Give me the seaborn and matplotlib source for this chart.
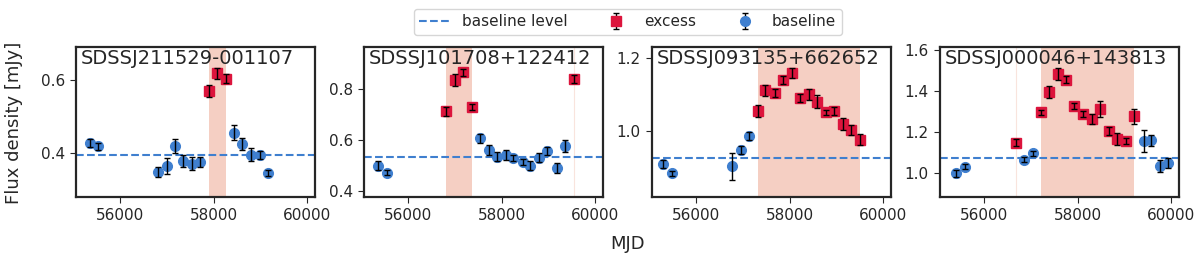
import numpy as np
import matplotlib
matplotlib.use("Agg")
import matplotlib.pyplot as plt
from matplotlib.ticker import MultipleLocator
import seaborn as sns

# ------------------------------------------------------------
# data
# ------------------------------------------------------------
names = ["SDSSJ211529-001107", "SDSSJ101708+122412",
         "SDSSJ093135+662652", "SDSSJ000046+143813"]

mjd_1 = [55344, 55522, 56798, 56988, 57164, 57342, 57532, 57708,
         57898, 58061, 58258, 58421, 58611, 58787, 58984, 59153]
flux_1 = [0.428, 0.419, 0.348, 0.365, 0.420, 0.378, 0.371, 0.375,
          0.570, 0.618, 0.604, 0.456, 0.426, 0.396, 0.394, 0.346]
err_1 = [0.011, 0.009, 0.014, 0.023, 0.020, 0.016, 0.018, 0.014,
         0.016, 0.014, 0.012, 0.020, 0.016, 0.018, 0.011, 0.009]
exc_1 = [0, 0, 0, 0, 0, 0, 0, 0, 1, 1, 1, 0, 0, 0, 0, 0]
base_1 = 0.394

mjd_2 = [55347, 55552, 56807, 56989, 57165, 57362, 57522, 57726, 57888,
         58084, 58238, 58442, 58596, 58800, 58968, 59172, 59341, 59543]
flux_2 = [0.501, 0.474, 0.713, 0.836, 0.864, 0.730, 0.607, 0.562, 0.536,
          0.542, 0.530, 0.515, 0.501, 0.532, 0.558, 0.493, 0.576, 0.838]
err_2 = [0.019, 0.010, 0.017, 0.023, 0.013, 0.013, 0.019, 0.019, 0.019,
         0.019, 0.013, 0.013, 0.016, 0.017, 0.017, 0.019, 0.023, 0.016]
exc_2 = [0, 0, 1, 1, 1, 1, 0, 0, 0, 0, 0, 0, 0, 0, 0, 0, 0, 1]
base_2 = 0.533

mjd_3 = [55283, 55483, 56766, 56958, 57128, 57319, 57475, 57674, 57845,
         58043, 58213, 58411, 58581, 58781, 58943, 59143, 59313, 59511]
flux_3 = [0.908, 0.884, 0.903, 0.947, 0.986, 1.054, 1.111, 1.105, 1.141,
          1.159, 1.089, 1.100, 1.080, 1.051, 1.055, 1.018, 1.002, 0.976]
err_3 = [0.011, 0.007, 0.037, 0.011, 0.011, 0.016, 0.014, 0.011, 0.011,
         0.014, 0.011, 0.014, 0.018, 0.007, 0.011, 0.016, 0.014, 0.016]
exc_3 = [0, 0, 0, 0, 0, 1, 1, 1, 1, 1, 1, 1, 1, 1, 1, 1, 1, 1]
base_3 = 0.926

mjd_4 = [55394, 55578, 56675, 56857, 57034, 57216, 57393, 57575, 57743,
         57927, 58102, 58300, 58475, 58665, 58840, 59038, 59199, 59410,
         59566, 59762, 59931]
flux_4 = [1.000, 1.033, 1.150, 1.066, 1.098, 1.297, 1.397, 1.485, 1.456,
          1.328, 1.289, 1.265, 1.313, 1.206, 1.168, 1.157, 1.277, 1.157,
          1.160, 1.036, 1.052]
err_4 = [0.016, 0.013, 0.016, 0.013, 0.013, 0.013, 0.029, 0.029, 0.016,
         0.016, 0.013, 0.024, 0.040, 0.019, 0.029, 0.013, 0.036, 0.053,
         0.029, 0.029, 0.024]
exc_4 = [0, 0, 1, 0, 0, 1, 1, 1, 1, 1, 1, 1, 1, 1, 1, 1, 1, 0, 0, 0, 0]
base_4 = 1.076

ylims = [(0.28, 0.69), (0.378, 0.963), (0.818, 1.230), (0.884, 1.615)]

sources = [(mjd_1, flux_1, err_1, exc_1, base_1),
           (mjd_2, flux_2, err_2, exc_2, base_2),
           (mjd_3, flux_3, err_3, exc_3, base_3),
           (mjd_4, flux_4, err_4, exc_4, base_4)]

RED = "#dc143c"
BLUE = "#3f7fcf"
SPAN = "#e9967a"

# ------------------------------------------------------------
# style
# ------------------------------------------------------------
sns.set_style("ticks")
plt.rcParams["font.family"] = ["DejaVu Sans"]
plt.rcParams["axes.linewidth"] = 1.6
plt.rcParams["axes.edgecolor"] = "#262626"
plt.rcParams["xtick.major.size"] = 4.5
plt.rcParams["ytick.major.size"] = 4.5
plt.rcParams["xtick.labelsize"] = 11
plt.rcParams["ytick.labelsize"] = 11


def excess_runs(mjd, exc):
    # consecutive runs of excess points -> (start, end)
    runs = []
    start = None
    for i, e in enumerate(exc):
        if e and start is None:
            start = mjd[i]
        if start is not None and (not e or i == len(exc) - 1):
            end = mjd[i] if e else mjd[i - 1]
            runs.append((start, end))
            start = None
    return runs


fig, axes = plt.subplots(1, 4, figsize=(12, 2.56), dpi=100, sharex=True)
fig.subplots_adjust(left=0.0633, right=0.9825, top=0.816, bottom=0.230,
                    wspace=0.205)

for ax, name, (mjd, flux, err, exc, base), yl in zip(axes, names, sources, ylims):
    mjd = np.array(mjd)
    flux = np.array(flux)
    err = np.array(err)
    exc = np.array(exc, dtype=bool)

    for a, b in excess_runs(mjd, exc):
        if b > a:
            ax.axvspan(a, b, facecolor=SPAN, alpha=0.45, lw=0, zorder=0)
        else:
            # single excess point -> zero-width span, only a faint edge
            ax.axvspan(a, b, color=SPAN, alpha=0.25, lw=0.8, zorder=0)

    hl = ax.axhline(base, color=BLUE, ls="--", lw=1.5, zorder=1,
                    label="baseline level")

    eb_exc = ax.errorbar(mjd[exc], flux[exc], yerr=err[exc], fmt="s",
                         color=RED, ms=6.5, ecolor="k", elinewidth=1,
                         capsize=2, capthick=1, label="excess")
    eb_base = ax.errorbar(mjd[~exc], flux[~exc], yerr=err[~exc], fmt="o",
                          color=BLUE, ms=7, ecolor="k", elinewidth=1,
                          capsize=2, capthick=1, label="baseline")
    # error bars on top of markers
    for eb in (eb_exc, eb_base):
        eb.lines[0].set_zorder(2)
        for c in eb.lines[1]:
            c.set_zorder(3)
        for c in eb.lines[2]:
            c.set_zorder(3)

    ax.text(0.02, 0.985, name, transform=ax.transAxes, ha="left", va="top",
            fontsize=14)

    ax.set_ylim(*yl)
    ax.yaxis.set_major_locator(MultipleLocator(0.2))
    ax.set_xticks([56000, 58000, 60000])
    ax.tick_params(axis="x", labelbottom=True)

handles = [hl, eb_exc, eb_base]
labels = ["baseline level", "excess", "baseline"]
fig.legend(handles, labels, loc="upper center", bbox_to_anchor=(0.523, 0.995),
           ncol=3, fontsize=11, frameon=True, columnspacing=2.2,
           borderpad=0.35)

fig.supxlabel("MJD", x=0.523, y=0.01, fontsize=13)
fig.supylabel("Flux density [mJy]", x=0.004, y=0.52, fontsize=13)

plt.savefig("out.png", dpi=100)
